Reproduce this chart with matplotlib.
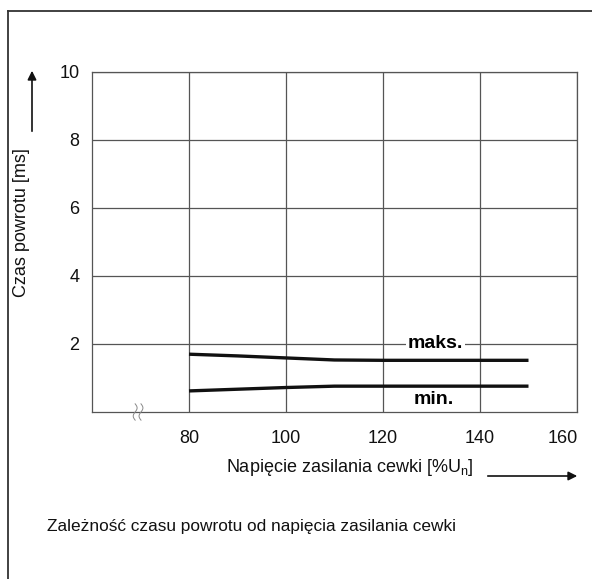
import numpy as np
import matplotlib
matplotlib.use("Agg")
import matplotlib.pyplot as plt
import matplotlib.transforms as mtransforms
from matplotlib.lines import Line2D
from matplotlib.patches import FancyArrowPatch

plt.rcParams['font.family'] = ['Liberation Sans', 'DejaVu Sans']

# data
voltage = [80, 90, 100, 110, 120, 130, 140, 150]
t_max = [1.70, 1.65, 1.59, 1.53, 1.52, 1.52, 1.52, 1.52]
t_min = [0.62, 0.67, 0.72, 0.76, 0.76, 0.76, 0.76, 0.76]
x_ticks = [80, 100, 120, 140, 160]
y_ticks = [2, 4, 6, 8, 10]
label_max = "maks."
label_min = "min."
break_x = 69.5

fig = plt.figure(figsize=(5.92, 5.79), dpi=100)
ax = fig.add_axes([92/592, 1-412/579, (577-92)/592, (412-72)/579])
ax.set_xlim(60, 160)
ax.set_ylim(0, 10)

gc = '#555555'
for xv in x_ticks:
    ax.axvline(xv, color=gc, lw=0.9, zorder=1)
for yv in y_ticks:
    ax.axhline(yv, color=gc, lw=0.9, zorder=1)
for s in ax.spines.values():
    s.set_color(gc)
    s.set_linewidth(0.9)

ax.set_xticks(x_ticks)
ax.set_yticks(y_ticks)
ax.tick_params(length=0, labelsize=13, colors='#111111')
ax.tick_params(axis='x', pad=13)
ax.tick_params(axis='y', pad=9)
# last x tick label sits inside the right edge
lab = ax.get_xticklabels()[-1]
lab.set_transform(lab.get_transform() + mtransforms.ScaledTranslation(-14/100, 0, fig.dpi_scale_trans))

ax.plot(voltage, t_max, color='#111111', lw=2.4, zorder=3, solid_capstyle='butt')
ax.plot(voltage, t_min, color='#111111', lw=2.4, zorder=3, solid_capstyle='butt')

ax.text(130.8, 2.0, label_max, fontsize=14, fontweight='bold', ha='center', va='center',
        bbox=dict(facecolor='white', edgecolor='none', pad=1.5), zorder=4)
ax.text(130.5, 0.38, label_min, fontsize=14, fontweight='bold', ha='center', va='center', zorder=4)

# axis break symbol
tt = np.linspace(-1, 1, 40)
for dx in (-0.6, 0.6):
    xs = break_x + dx + 0.4*np.sin(tt*np.pi)
    ys = 0.24*tt
    ax.plot(xs, ys, color='#888888', lw=0.7, clip_on=False, zorder=5)

# axis labels
fig.text(22/592, 1-148/579, "Czas powrotu [ms]", rotation=90, fontsize=13,
         ha='center', va='top', color='#111111')
fig.text(350/592, 1-468/579, "Napięcie zasilania cewki [%U$_\\mathregular{n}$]", fontsize=13,
         ha='center', va='center', color='#111111')

# arrows
fig.add_artist(FancyArrowPatch((32/592, 1-134/579), (32/592, 1-68/579),
                               transform=fig.transFigure, arrowstyle='-|>',
                               mutation_scale=13, color='#111111', lw=1.2))
fig.add_artist(FancyArrowPatch((485/592, 1-476/579), (580/592, 1-476/579),
                               transform=fig.transFigure, arrowstyle='-|>',
                               mutation_scale=13, color='#111111', lw=1.2))

fig.text(47/592, 1-527/579, "Zależność czasu powrotu od napięcia zasilania cewki", fontsize=12.4,
         ha='left', va='center', color='#111111')

# outer frame (top and left)
fig.add_artist(Line2D([8/592, 8/592], [0, 1-11/579], transform=fig.transFigure, color='#333333', lw=1.3))
fig.add_artist(Line2D([8/592, 1], [1-11/579, 1-11/579], transform=fig.transFigure, color='#333333', lw=1.3))

fig.savefig("out.png", dpi=100)
